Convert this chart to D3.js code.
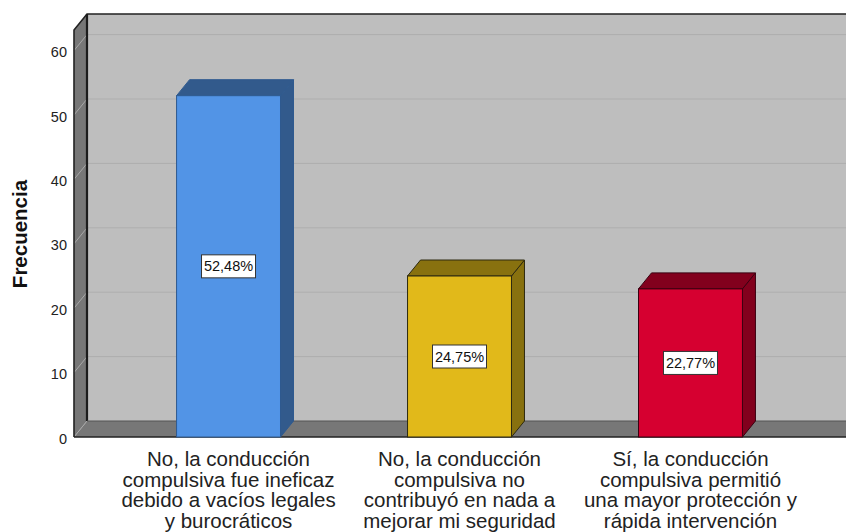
<!DOCTYPE html>
<html>
<head>
<meta charset="utf-8">
<script src="https://cdnjs.cloudflare.com/ajax/libs/d3/7.8.5/d3.min.js"></script>
<style>
  html, body { margin: 0; padding: 0; background: #fff; }
  svg { display: block; }
  text { font-family: "Liberation Sans", Arial, sans-serif; }
</style>
</head>
<body>
<div id="chart"></div>
<script>
const categories = [
	["No, la conducción", "compulsiva fue ineficaz", "debido a vacíos legales", "y burocráticos"],
	["No, la conducción", "compulsiva no", "contribuyó en nada a", "mejorar mi seguridad"],
	["Sí, la conducción", "compulsiva permitió", "una mayor protección y", "rápida intervención"]
];
const frequencies = [53, 25, 23];
const percentLabels = ["52,48%", "24,75%", "22,77%"];
const frontColors = ["#5294e6", "#e1b91a", "#d60030"];
const sideColors = ["#325a8c", "#88710f", "#82001d"];
const strokeColors = ["#2f5a8f", "#2e2a10", "#3a0010"];
const yTicks = [0, 10, 20, 30, 40, 50, 60];

const width = 846, height = 532;
const depthX = 13, depthY = 16;

const svg = d3.select("#chart").append("svg")
	.attr("width", width)
	.attr("height", height);

const x = d3.scaleBand()
	.domain(d3.range(categories.length))
	.range([74, 845])
	.paddingInner(0.55)
	.paddingOuter(0.444);

const y = d3.scaleLinear()
	.domain([0, 60])
	.range([437, 50.6]);

const wallTop = 30, wallLeft = 74, wallRight = 846, base = y(0);

// back wall, side wall, floor
svg.append("rect")
	.attr("x", wallLeft + depthX).attr("y", wallTop - depthY)
	.attr("width", wallRight - wallLeft - depthX).attr("height", base - wallTop)
	.attr("fill", "#bebebe");

svg.append("path")
	.attr("d", `M${wallLeft},${wallTop}L${wallLeft + depthX},${wallTop - depthY}V${base - depthY}L${wallLeft},${base}Z`)
	.attr("fill", "#777");

svg.append("path")
	.attr("d", `M${wallLeft},${base}L${wallLeft + depthX},${base - depthY}H${wallRight}V${base}Z`)
	.attr("fill", "#777");

// gridlines
svg.selectAll(".grid").data(yTicks.slice(1)).enter().append("line")
	.attr("class", "grid")
	.attr("x1", wallLeft + depthX).attr("x2", wallRight)
	.attr("y1", d => y(d) - depthY).attr("y2", d => y(d) - depthY)
	.attr("stroke", "#aeaeae").attr("stroke-width", 1);

svg.selectAll(".gridSide").data(yTicks).enter().append("line")
	.attr("class", "gridSide")
	.attr("x1", wallLeft).attr("x2", wallLeft + depthX)
	.attr("y1", d => y(d)).attr("y2", d => y(d) - depthY)
	.attr("stroke", "#a8a8a8").attr("stroke-width", 1);

// frame lines
svg.append("path")
	.attr("d", `M${wallLeft},${base}V${wallTop}L${wallLeft + depthX},${wallTop - depthY}H${wallRight}`)
	.attr("fill", "none").attr("stroke", "#222").attr("stroke-width", 1.6);

svg.append("line")
	.attr("x1", wallLeft + depthX).attr("x2", wallLeft + depthX)
	.attr("y1", wallTop - depthY).attr("y2", base - depthY)
	.attr("stroke", "#1c1c1c").attr("stroke-width", 2.2);

svg.append("line")
	.attr("x1", wallLeft + depthX).attr("x2", wallRight)
	.attr("y1", base - depthY).attr("y2", base - depthY)
	.attr("stroke", "#555").attr("stroke-width", 1);

svg.append("line")
	.attr("x1", wallLeft).attr("x2", wallRight)
	.attr("y1", base).attr("y2", base)
	.attr("stroke", "#222").attr("stroke-width", 1.6);

// bars
const bars = svg.selectAll(".bar").data(frequencies).enter().append("g").attr("class", "bar");

bars.append("path")
	.attr("d", (d, i) => {
		const x1 = x(i) + x.bandwidth();
		return `M${x1},${y(d)}L${x1 + depthX},${y(d) - depthY}V${base - depthY}L${x1},${base}Z`;
	})
	.attr("fill", (d, i) => sideColors[i])
	.attr("stroke", (d, i) => strokeColors[i]);

bars.append("path")
	.attr("d", (d, i) => {
		const x0 = x(i), x1 = x0 + x.bandwidth();
		return `M${x0},${y(d)}L${x0 + depthX},${y(d) - depthY}H${x1 + depthX}L${x1},${y(d)}Z`;
	})
	.attr("fill", (d, i) => sideColors[i])
	.attr("stroke", (d, i) => strokeColors[i]);

bars.append("rect")
	.attr("x", (d, i) => x(i))
	.attr("y", d => y(d))
	.attr("width", x.bandwidth())
	.attr("height", d => base - y(d))
	.attr("fill", (d, i) => frontColors[i])
	.attr("stroke", (d, i) => strokeColors[i]);

// percent labels
const boxW = 54, boxH = 23;
bars.append("rect")
	.attr("x", (d, i) => x(i) + x.bandwidth() / 2 - boxW / 2)
	.attr("y", d => (y(d) + base) / 2 - boxH / 2)
	.attr("width", boxW).attr("height", boxH)
	.attr("fill", "#fff").attr("stroke", "#333").attr("stroke-width", 1);

bars.append("text")
	.attr("x", (d, i) => x(i) + x.bandwidth() / 2)
	.attr("y", d => (y(d) + base) / 2 + 5)
	.attr("text-anchor", "middle")
	.attr("font-size", 14.5)
	.attr("fill", "#111")
	.text((d, i) => percentLabels[i]);

// y tick labels
svg.selectAll(".yTick").data(yTicks).enter().append("text")
	.attr("class", "yTick")
	.attr("x", 67)
	.attr("y", d => y(d) + 6.5)
	.attr("text-anchor", "end")
	.attr("font-size", 14.5)
	.attr("fill", "#222")
	.text(d => d);

// y title
svg.append("text")
	.attr("transform", "translate(27,234) rotate(-90)")
	.attr("text-anchor", "middle")
	.attr("font-size", 20.5)
	.attr("font-weight", "bold")
	.attr("fill", "#111")
	.text("Frecuencia");

// category labels
const cat = svg.selectAll(".cat").data(categories).enter().append("text")
	.attr("class", "cat")
	.attr("text-anchor", "middle")
	.attr("font-size", 20.5)
	.attr("fill", "#222");

cat.selectAll("tspan").data((d, i) => d.map(t => ({ t, i }))).enter().append("tspan")
	.attr("x", d => x(d.i) + x.bandwidth() / 2)
	.attr("y", (d, j) => 466 + j * 20.7)
	.text(d => d.t);
</script>
</body>
</html>
